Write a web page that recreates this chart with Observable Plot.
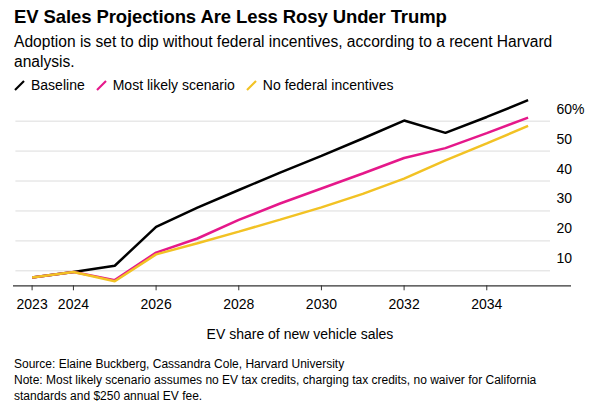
<!DOCTYPE html>
<html>
<head>
<meta charset="utf-8">
<script src="https://cdn.jsdelivr.net/npm/d3@7"></script>
<script src="https://cdn.jsdelivr.net/npm/@observablehq/plot@0.6"></script>
<style>
  html, body { margin: 0; padding: 0; background: #fff; }
  body { width: 600px; height: 407px; position: relative; overflow: hidden; font-family: "Liberation Sans", Arial, Helvetica, sans-serif; color: #000; }
  .abs { position: absolute; left: 14px; white-space: nowrap; }
  #title { top: 6px; font-size: 18.5px; font-weight: bold; letter-spacing: -0.1px; }
  #subtitle { top: 32px; font-size: 15.6px; line-height: 20px; }
  #legend { top: 77px; font-size: 14px; display: flex; align-items: center; }
  #legend .item { display: flex; align-items: center; margin-right: 11px; }
  #legend svg { margin-right: 6px; }
  #chart { position: absolute; left: 0; top: 95px; }
  #xlabel { position: absolute; top: 326px; left: 0; width: 600px; text-align: center; font-size: 14px; }
  #foot { top: 356px; font-size: 12px; line-height: 16px; }
</style>
</head>
<body>
<div id="title" class="abs">EV Sales Projections Are Less Rosy Under Trump</div>
<div id="subtitle" class="abs">Adoption is set to dip without federal incentives, according to a recent Harvard<br>analysis.</div>
<div id="legend" class="abs"></div>
<div id="chart"></div>
<div id="xlabel">EV share of new vehicle sales</div>
<div id="foot" class="abs">Source: Elaine Buckberg, Cassandra Cole, Harvard University<br>Note: Most likely scenario assumes no EV tax credits, charging tax credits, no waiver for California<br>standards and $250 annual EV fee.</div>
<script>
const years = [2023, 2024, 2025, 2026, 2027, 2028, 2029, 2030, 2031, 2032, 2033, 2034, 2035];
const baseline = [7.8, 9.6, 11.7, 24.7, 31.1, 37.0, 42.8, 48.4, 54.2, 60.2, 56.1, 61.4, 67.0];
const mostLikely = [7.8, 9.6, 6.9, 16.1, 20.8, 27.0, 32.5, 37.5, 42.5, 47.7, 51.0, 56.0, 61.2];
const noFederal = [7.8, 9.6, 6.5, 15.5, 19.2, 23.1, 27.1, 31.2, 35.7, 40.8, 46.9, 52.6, 58.4];
const seriesNames = ["Baseline", "Most likely scenario", "No federal incentives"];
const seriesColors = ["#000000", "#e5188a", "#f2c224"];
const xTicks = [2023, 2024, 2026, 2028, 2030, 2032, 2034];
const yTicks = [10, 20, 30, 40, 50, 60];

const seriesValues = [baseline, mostLikely, noFederal];
const data = [];
seriesNames.forEach((name, i) => {
  years.forEach((yr, j) => data.push({series: name, year: yr, value: seriesValues[i][j]}));
});

// legend
const legend = document.getElementById("legend");
seriesNames.forEach((name, i) => {
  const item = document.createElement("div");
  item.className = "item";
  item.innerHTML = `<svg width="11" height="12"><line x1="1" y1="11" x2="10" y2="2" stroke="${seriesColors[i]}" stroke-width="2.2"/></svg><span>${name}</span>`;
  legend.appendChild(item);
});

const chart = Plot.plot({
  width: 600,
  height: 220,
  marginLeft: 13,
  marginRight: 29,
  marginTop: 4.7,
  marginBottom: 29.7,
  style: {fontFamily: "'Liberation Sans', Arial, sans-serif", fontSize: "14px", color: "#000", background: "transparent"},
  x: {domain: [2022.55, 2036.05], label: null},
  y: {domain: [5, 67], label: null},
  color: {domain: seriesNames, range: seriesColors},
  marks: [
    Plot.ruleY(yTicks, {stroke: "#dcdcdc", strokeWidth: 1, insetLeft: 2.4, insetRight: 21}),
    Plot.ruleY([5], {stroke: "#333", strokeWidth: 1.2}),
    Plot.axisX({ticks: xTicks, tickFormat: d => String(d), tickSize: 5, tickPadding: 8, stroke: "#333", fontSize: 14, fill: "#000", label: null}),
    Plot.axisY({anchor: "right", ticks: yTicks, tickSize: 0, tickPadding: 0, dx: -15, dy: -12, textAnchor: "start",
      tickFormat: d => d === 60 ? "60%" : String(d), fontSize: 14, fill: "#000", label: null}),
    Plot.line(data, {x: "year", y: "value", z: "series", stroke: "series", strokeWidth: 2.5, strokeLinejoin: "miter", strokeLinecap: "butt"})
  ]
});
document.getElementById("chart").appendChild(chart);
</script>
</body>
</html>
